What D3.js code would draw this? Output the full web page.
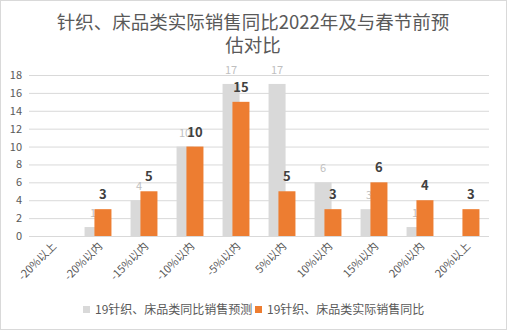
<!DOCTYPE html>
<html><head><meta charset="utf-8">
<script src="https://cdn.jsdelivr.net/npm/d3@7/dist/d3.min.js"></script>
<style>body{margin:0;background:#fff}svg{display:block}</style>
</head><body>
<script>
const categories = ["-20%以上","-20%以内","-15%以内","-10%以内","-5%以内","5%以内","10%以内","15%以内","20%以内","20%以上"];
const forecast = [null,1,4,10,17,17,6,3,1,null];
const actual = [null,3,5,10,15,5,3,6,4,3];
const yTicks = [0,2,4,6,8,10,12,14,16,18];
const seriesNames = ["19针织、床品类同比销售预测","19针织、床品类实际销售同比"];
const title = ["针织、床品类实际销售同比2022年及与春节前预","估对比"];

const W = 507, H = 330;
const font = "'Noto Sans CJK SC', 'Noto Sans', sans-serif";
const svg = d3.select("body").append("svg").attr("width", W).attr("height", H);
svg.append("rect").attr("x",0.5).attr("y",0.5).attr("width",W-1).attr("height",H-1)
  .attr("fill","#fff").attr("stroke","#d9d9d9");

// title
svg.append("g").selectAll("text").data(title).join("text")
  .attr("x", 253).attr("y", (d,i)=>29 + i*23)
  .attr("text-anchor","middle").attr("font-family",font).attr("font-size",18.5)
  .attr("fill","#595959").text(d=>d);

const x = d3.scaleBand().domain(categories).range([29, 489]).padding(0);
const y = d3.scaleLinear().domain([0,18]).range([236, 75]);
const bw = x.bandwidth();
const barW = bw*0.37, off = bw*0.215;
const grayX = c => x(c) + bw/2 - (barW+off)/2;
const orangeX = c => grayX(c) + off;

// gridlines
svg.append("g").selectAll("line").data(yTicks).join("line")
  .attr("x1",29).attr("x2",489).attr("y1",d=>y(d)+0.5).attr("y2",d=>y(d)+0.5)
  .attr("stroke","#d9d9d9").attr("stroke-width",1);

// y axis labels
const yAxis = d3.axisLeft(y).tickValues(yTicks).tickSize(0).tickPadding(0);
const yg = svg.append("g").attr("transform","translate(22,0)").call(yAxis);
yg.select(".domain").remove();
yg.selectAll("text").attr("font-family",font).attr("font-size",11).attr("fill","#595959");

const fd = categories.map((c,i)=>({c, v: forecast[i]})).filter(d=>d.v!=null);
const ad = categories.map((c,i)=>({c, v: actual[i]})).filter(d=>d.v!=null);

svg.append("g").selectAll("rect").data(fd).join("rect")
  .attr("x", d=>grayX(d.c)).attr("width", barW)
  .attr("y", d=>y(d.v)).attr("height", d=>y(0)-y(d.v)).attr("fill","#d9d9d9");
svg.append("g").selectAll("text").data(fd).join("text")
  .attr("x", d=>grayX(d.c)+barW/2).attr("y", d=>y(d.v)-10)
  .attr("text-anchor","middle").attr("font-family",font).attr("font-size",11)
  .attr("fill","#bfbfbf").text(d=>d.v);

svg.append("g").selectAll("rect").data(ad).join("rect")
  .attr("x", d=>orangeX(d.c)).attr("width", barW)
  .attr("y", d=>y(d.v)).attr("height", d=>y(0)-y(d.v)).attr("fill","#ed7d31");
svg.append("g").selectAll("text").data(ad).join("text")
  .attr("x", d=>orangeX(d.c)+barW/2).attr("y", d=>y(d.v)-10)
  .attr("text-anchor","middle").attr("font-family",font).attr("font-size",13)
  .attr("font-weight","bold").attr("fill","#404040").text(d=>d.v);

// x labels
svg.append("g").selectAll("text").data(categories).join("text")
  .attr("transform", d=>`translate(${x(d)+bw/2+5},247) rotate(-45)`)
  .attr("text-anchor","end").attr("font-family",font).attr("font-size",11)
  .attr("fill","#595959").text(d=>d);

// legend
const leg = svg.append("g").attr("font-family",font).attr("font-size",12).attr("fill","#595959");
const legX = [83, 255];
const legCol = ["#d9d9d9","#ed7d31"];
seriesNames.forEach((n,i)=>{
  leg.append("rect").attr("x",legX[i]).attr("y",306).attr("width",7).attr("height",7).attr("fill",legCol[i]);
  leg.append("text").attr("x",legX[i]+12).attr("y",314).text(n);
});
</script>
</body></html>
